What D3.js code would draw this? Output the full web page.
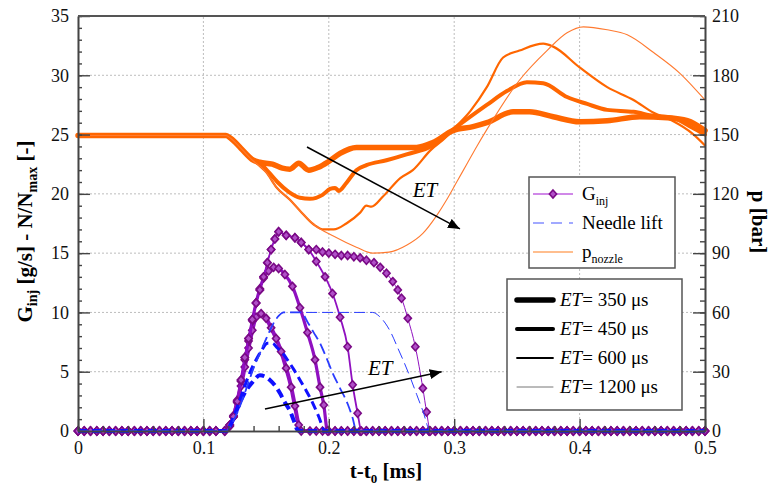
<!DOCTYPE html>
<html><head><meta charset="utf-8">
<script src="https://cdn.jsdelivr.net/npm/d3@7"></script>
<style>
body{margin:0;background:#fff;}
svg{display:block;}
text{font-family:"Liberation Serif","Times New Roman",Tinos,"DejaVu Serif","Noto Serif",Times,serif;}
</style></head>
<body><svg id="c" width="774" height="493"></svg>
<script>
// ---------------- DATA ----------------
const etLabels = ["350", "450", "600", "1200"];
const xTicks = [0, 0.1, 0.2, 0.3, 0.4, 0.5];
const leftTicks = [0, 5, 10, 15, 20, 25, 30, 35];
const rightTicks = [0, 30, 60, 90, 120, 150, 180, 210];

// sample times of the zero-valued G_inj points (ms)
const baseT = [0,0.005,0.01,0.015,0.02,0.025,0.03,0.035,0.04,0.045,0.05,0.055,0.06,0.065,0.07,0.075,0.08,0.085,0.09,0.095,
0.1,0.105,0.11,0.115,0.12,0.125,0.13,0.135,0.14,0.145,0.15,0.155,0.16,0.165,0.17,0.175,0.18,0.185,0.19,0.195,
0.2,0.205,0.21,0.215,0.22,0.225,0.23,0.235,0.24,0.245,0.25,0.255,0.26,0.265,0.27,0.275,0.28,0.285,0.29,0.295,
0.3,0.305,0.31,0.315,0.32,0.325,0.33,0.335,0.34,0.345,0.35,0.355,0.36,0.365,0.37,0.375,0.38,0.385,0.39,0.395,
0.4,0.405,0.41,0.415,0.42,0.425,0.43,0.435,0.44,0.445,0.45,0.455,0.46,0.465,0.47,0.475,0.48,0.485,0.49,0.495,0.5];

// injection rate pulses [t ms, g/s]
const gin350 = [[0.117,0],[0.121,0.4],[0.124,1.2],[0.127,2.4],[0.130,3.8],[0.133,5.4],[0.136,7.0],[0.139,8.5],[0.142,9.6],[0.146,9.9],
 [0.150,9.5],[0.154,8.7],[0.158,7.8],[0.162,6.7],[0.166,5.3],[0.170,3.7],[0.173,2.1],[0.176,0.5],[0.178,0]];
const gin450 = [[0.117,0],[0.121,0.5],[0.124,1.3],[0.127,2.6],[0.130,4.2],[0.133,6.0],[0.136,7.6],[0.139,9.3],[0.142,10.8],[0.145,12.0],
 [0.148,12.9],[0.152,13.5],[0.156,13.8],[0.160,13.7],[0.165,13.2],[0.171,12.2],[0.177,10.4],[0.183,8.3],[0.189,6.0],[0.193,3.7],[0.196,2.2],[0.199,0]];
const gin600 = [[0.117,0],[0.121,0.5],[0.124,1.2],[0.127,2.5],[0.130,4.3],[0.133,6.2],[0.136,7.8],[0.139,9.4],[0.142,10.8],[0.145,11.9],
 [0.148,13.0],[0.151,14.2],[0.154,15.3],[0.157,16.2],[0.160,16.8],[0.166,16.5],[0.173,16.3],[0.178,15.9],[0.184,15.3],[0.190,14.3],
 [0.197,13.0],[0.203,11.6],[0.209,9.6],[0.215,7.1],[0.219,3.9],[0.223,1.5],[0.226,0]];
const gin1200 = [[0.117,0],[0.121,0.5],[0.124,1.2],[0.127,2.5],[0.130,4.3],[0.133,6.2],[0.136,7.8],[0.139,9.4],[0.142,10.8],[0.145,11.9],
 [0.148,13.0],[0.151,14.2],[0.154,15.3],[0.157,16.2],[0.160,16.8],[0.166,16.5],[0.173,16.3],[0.178,15.9],[0.184,15.3],[0.190,15.3],
 [0.195,15.1],[0.200,15.0],[0.205,14.9],[0.210,14.8],[0.215,14.8],[0.220,14.7],[0.225,14.6],[0.230,14.4],[0.236,14.2],[0.241,13.8],
 [0.246,13.3],[0.251,12.6],[0.255,11.9],[0.258,11.2],[0.263,9.5],[0.269,7.1],[0.275,3.6],[0.278,1.6],[0.281,0]];

// needle lift (normalised, x10) [t ms, value]
const nl350 = [[0,0],[0.118,0],[0.122,0.6],[0.126,1.6],[0.130,2.6],[0.134,3.4],[0.139,4.1],[0.145,4.7],[0.149,4.6],[0.153,4.3],
 [0.158,3.7],[0.161,3.2],[0.165,2.4],[0.169,1.7],[0.172,0.9],[0.175,0.1],[0.177,0],[0.5,0]];
const nl450 = [[0,0],[0.118,0],[0.122,0.6],[0.127,2.0],[0.132,3.5],[0.137,4.9],[0.143,6.2],[0.147,6.9],[0.151,7.4],[0.155,7.4],
 [0.159,7.0],[0.163,6.6],[0.167,6.0],[0.172,5.2],[0.177,4.3],[0.182,3.4],[0.187,2.4],[0.192,1.2],[0.197,0],[0.5,0]];
const nl600 = [[0,0],[0.118,0],[0.122,0.5],[0.128,1.8],[0.134,3.5],[0.140,5.3],[0.146,6.8],[0.151,8.0],[0.156,9.1],[0.160,9.7],
 [0.164,10],[0.178,10],[0.183,9.2],[0.188,8.3],[0.193,7.4],[0.198,6.2],[0.203,4.9],[0.209,3.6],[0.215,2.3],[0.219,1.1],[0.222,0],[0.5,0]];
const nl1200 = [[0,0],[0.118,0],[0.122,0.5],[0.128,1.8],[0.134,3.5],[0.140,5.3],[0.146,6.8],[0.151,8.0],[0.156,9.1],[0.160,9.7],
 [0.164,10],[0.235,10],[0.240,9.7],[0.245,9.1],[0.250,8.2],[0.255,7.0],[0.260,5.8],[0.265,4.5],[0.270,3.1],[0.275,1.7],[0.281,0],[0.5,0]];

// nozzle pressure [t ms, bar]
const p350 = [[0,149.5],[0.118,149.5],[0.122,148],[0.130,143],[0.140,137],[0.145,136],[0.155,135],[0.163,133],[0.169,132.5],[0.176,135.5],
 [0.184,132],[0.192,133.5],[0.199,136],[0.209,140.5],[0.222,143.5],[0.243,143.5],[0.270,143.5],[0.283,146],[0.299,152],[0.315,154],
 [0.326,156],[0.347,161.5],[0.360,161.5],[0.379,159],[0.400,156.5],[0.422,157],[0.448,159],[0.470,158.5],[0.486,157],[0.5,152]];
const p450 = [[0,149.5],[0.118,149.5],[0.122,148],[0.130,143],[0.140,137],[0.145,135.5],[0.152,131],[0.159,126],[0.168,121],[0.177,118],
 [0.185,117.5],[0.195,119.5],[0.201,122.5],[0.205,123],[0.208,121.5],[0.214,125.5],[0.222,132],[0.230,134.5],[0.246,137],[0.262,140],
 [0.283,144.5],[0.299,152.5],[0.326,165],[0.342,172],[0.358,176.5],[0.371,176],[0.390,169],[0.406,165.5],[0.422,162.5],[0.443,161.5],
 [0.459,159.5],[0.474,158.5],[0.490,153.5],[0.5,150]];
const p600 = [[0,149.5],[0.118,149.5],[0.122,148],[0.130,143],[0.140,136.5],[0.145,134],[0.150,131],[0.158,123.5],[0.169,117],[0.177,111.5],
 [0.188,104.5],[0.196,102],[0.204,102],[0.214,105],[0.225,110.5],[0.230,114],[0.234,113.5],[0.243,118.5],[0.257,128],[0.267,132],
 [0.281,142],[0.294,149],[0.299,152.5],[0.313,162],[0.326,174],[0.339,189],[0.352,192.5],[0.371,196],[0.379,194.5],[0.400,184],
 [0.422,174],[0.443,167.5],[0.459,161],[0.474,157],[0.490,150.5],[0.5,144.5]];
const p1200 = [[0,149.5],[0.118,149.5],[0.122,148],[0.130,143],[0.140,136.5],[0.145,134],[0.150,131],[0.158,123.5],[0.169,117],[0.177,111.5],
 [0.188,104.5],[0.204,98.5],[0.222,93],[0.235,90],[0.248,90.5],[0.262,94],[0.275,100],[0.286,109],[0.294,117],[0.302,126],
 [0.310,135],[0.318,144],[0.326,152.5],[0.352,177.5],[0.374,192.5],[0.390,201.5],[0.403,204.5],[0.422,203],[0.438,200.5],[0.459,191.5],
 [0.480,181],[0.5,167.5]];

const ginSeries = [gin350, gin450, gin600, gin1200];
const nlSeries = [nl350, nl450, nl600, nl1200];
const pSeries = [p350, p450, p600, p1200];

// ---------------- DRAW ----------------
const FONT = '"Liberation Serif","Times New Roman",Tinos,"DejaVu Serif","Noto Serif",Times,serif';
const svg = d3.select("#c");
const X0 = 78, X1 = 705, Y0 = 431, Y1 = 16;
const x = d3.scaleLinear([0, 0.5], [X0, X1]);
const yL = d3.scaleLinear([0, 35], [Y0, Y1]);
const yR = d3.scaleLinear([0, 210], [Y0, Y1]);

const orange = "#FF6600", blue = "#1010FF", purple = "#9010C0", purpleDark = "#7A0A86";
const pWidths = [5.5, 4, 2.2, 1.1];
const nlWidths = [4, 3, 1.8, 1];
const nlDash = ["9,5", "9,5", "11,5", "11,5"];
const ginWidths = [4, 3.2, 1.8, 1];

// grid
const grid = svg.append("g").attr("stroke", "#bdbdbd").attr("stroke-width", 1).attr("stroke-dasharray", "2,2");
grid.selectAll("line.gx").data(xTicks.slice(1, -1)).join("line")
  .attr("x1", d => x(d)).attr("x2", d => x(d)).attr("y1", Y0).attr("y2", Y1);
grid.selectAll("line.gy").data(leftTicks.slice(1, -1)).join("line")
  .attr("x1", X0).attr("x2", X1).attr("y1", d => yL(d)).attr("y2", d => yL(d));

const plot = svg.append("g");
const lineP = d3.line().x(d => x(d[0])).y(d => yR(d[1])).curve(d3.curveMonotoneX);
const lineL = d3.line().x(d => x(d[0])).y(d => yL(d[1])).curve(d3.curveMonotoneX);

// pressure
pSeries.forEach((s, i) => {
  plot.append("path").attr("d", lineP(s)).attr("fill", "none")
    .attr("stroke", i === 3 ? "#FF7A30" : orange).attr("stroke-width", pWidths[i])
    .attr("stroke-linejoin", "round").attr("stroke-linecap", "round");
});

// G_inj: full series = zeros before pulse + pulse + zeros after
const diamond = "M0,-4L3.6,0L0,4L-3.6,0Z";
ginSeries.forEach((s, i) => {
  const t0 = s[0][0], t1 = s[s.length - 1][0];
  const full = baseT.filter(t => t < t0 - 0.002).map(t => [t, 0])
    .concat(s)
    .concat(baseT.filter(t => t > t1 + 0.002).map(t => [t, 0]));
  plot.append("path").attr("d", lineL(full)).attr("fill", "none")
    .attr("stroke", purple).attr("stroke-width", ginWidths[i]).attr("stroke-linejoin", "round");
  plot.append("g").selectAll("path").data(full).join("path")
    .attr("transform", d => `translate(${x(d[0])},${yL(d[1])})`)
    .attr("d", diamond).attr("fill", "#B050C8").attr("stroke", purpleDark).attr("stroke-width", 1.6);
});

// needle lift
nlSeries.forEach((s, i) => {
  plot.append("path").attr("d", lineL(s)).attr("fill", "none")
    .attr("stroke", i >= 2 ? "#2a3cff" : blue).attr("stroke-width", nlWidths[i])
    .attr("stroke-dasharray", nlDash[i]);
});

// ET arrows
svg.append("defs").append("marker").attr("id", "ah").attr("viewBox", "0 0 12 10")
  .attr("refX", 12).attr("refY", 5).attr("markerWidth", 12).attr("markerHeight", 10)
  .attr("markerUnits", "userSpaceOnUse").attr("orient", "auto")
  .append("path").attr("d", "M0,0L12,5L0,10Z").attr("fill", "#000");
const arrows = [
  {from: [0.1826, 23.95], to: [0.3046, 17.04], label: [0.2767, 20.3]},
  {from: [0.1491, 1.85], to: [0.2900, 5.0], label: [0.2410, 5.3]}
];
arrows.forEach(a => {
  svg.append("line").attr("x1", x(a.from[0])).attr("y1", yL(a.from[1]))
    .attr("x2", x(a.to[0])).attr("y2", yL(a.to[1]))
    .attr("stroke", "#000").attr("stroke-width", 1.5).attr("marker-end", "url(#ah)");
  svg.append("text").attr("x", x(a.label[0])).attr("y", yL(a.label[1]) + 7)
    .attr("text-anchor", "middle").attr("font-style", "italic").attr("font-size", 21).text("ET");
});

// axes
const axG = svg.append("g").attr("font-size", 18);
function styleAxis(g) {
  g.attr("font-family", FONT);
  g.select(".domain").attr("stroke", "#444").attr("stroke-width", 1.6);
  g.selectAll(".tick line").attr("stroke", "#444").attr("stroke-width", 1.4);
  g.selectAll("text").attr("font-size", 18).attr("fill", "#111");
}
axG.append("g").attr("transform", `translate(${X0},0)`)
  .call(d3.axisLeft(yL).tickValues(d3.range(0, 35.01, 1)).tickSize(-4).tickSizeOuter(0).tickFormat(""))
  .call(styleAxis);
axG.append("g").attr("transform", `translate(${X0},0)`)
  .call(d3.axisLeft(yL).tickValues(leftTicks).tickSize(-12).tickSizeOuter(0).tickPadding(9).tickFormat(d3.format("d")))
  .call(styleAxis);
axG.append("g").attr("transform", `translate(${X1},0)`)
  .call(d3.axisRight(yR).tickValues(d3.range(0, 210.01, 6)).tickSize(-5).tickSizeOuter(0).tickFormat(""))
  .call(styleAxis);
axG.append("g").attr("transform", `translate(${X1},0)`)
  .call(d3.axisRight(yR).tickValues(rightTicks).tickSize(-12).tickSizeOuter(0).tickPadding(7).tickFormat(d3.format("d")))
  .call(styleAxis);
axG.append("g").attr("transform", `translate(0,${Y0})`)
  .call(d3.axisBottom(x).tickValues(d3.range(0, 0.5001, 0.02)).tickSize(-5).tickSizeOuter(0).tickFormat(""))
  .call(styleAxis);
axG.append("g").attr("transform", `translate(0,${Y0})`)
  .call(d3.axisBottom(x).tickValues(xTicks).tickSize(-12).tickSizeOuter(0).tickPadding(10).tickFormat(d => d === 0 ? "0" : d3.format(".1f")(d)))
  .call(styleAxis);
svg.append("line").attr("x1", X0).attr("x2", X1).attr("y1", Y1).attr("y2", Y1).attr("stroke", "#555").attr("stroke-width", 1.8);

// axis titles
const lt = svg.append("text").attr("transform", `translate(32,${(Y0 + Y1) / 2 + 8}) rotate(-90)`)
  .attr("text-anchor", "middle").attr("font-weight", "bold").attr("font-size", 21);
lt.append("tspan").text("G");
lt.append("tspan").attr("font-size", 14).attr("dy", 5).text("inj");
lt.append("tspan").attr("dy", -5).text("  [g/s] - N/N");
lt.append("tspan").attr("font-size", 14).attr("dy", 5).text("max");
lt.append("tspan").attr("dy", -5).text(" [-]");

svg.append("text").attr("transform", `translate(752,222) rotate(90)`)
  .attr("text-anchor", "middle").attr("font-weight", "bold").attr("font-size", 21).text("p [bar]");

const xt = svg.append("text").attr("x", 386).attr("y", 478).attr("text-anchor", "middle")
  .attr("font-weight", "bold").attr("font-size", 21);
xt.append("tspan").text("t-t");
xt.append("tspan").attr("font-size", 13).attr("dy", 5).text("0");
xt.append("tspan").attr("dy", -5).text(" [ms]");

// legend 1
const lg1 = svg.append("g");
lg1.append("rect").attr("x", 529).attr("y", 177).attr("width", 146).attr("height", 91)
  .attr("fill", "#fff").attr("stroke", "#555").attr("stroke-width", 1.5);
const l1y = [194, 223, 252];
lg1.append("line").attr("x1", 533).attr("x2", 573).attr("y1", l1y[0]).attr("y2", l1y[0]).attr("stroke", "#C060E0").attr("stroke-width", 1.5);
lg1.append("path").attr("transform", `translate(553,${l1y[0]})`).attr("d", diamond).attr("fill", "#B050C8").attr("stroke", purpleDark).attr("stroke-width", 1.6);
lg1.append("line").attr("x1", 533).attr("x2", 573).attr("y1", l1y[1]).attr("y2", l1y[1]).attr("stroke", "#4455ff").attr("stroke-width", 1.2).attr("stroke-dasharray", "11,7");
lg1.append("line").attr("x1", 533).attr("x2", 573).attr("y1", l1y[2]).attr("y2", l1y[2]).attr("stroke", "#FFA868").attr("stroke-width", 1.5);
const t1 = lg1.append("text").attr("x", 582).attr("y", l1y[0] + 6).attr("font-size", 19);
t1.append("tspan").text("G"); t1.append("tspan").attr("font-size", 12).attr("dy", 5).text("inj");
lg1.append("text").attr("x", 582).attr("y", l1y[1] + 6).attr("font-size", 19).text("Needle lift");
const t3 = lg1.append("text").attr("x", 582).attr("y", l1y[2] + 6).attr("font-size", 19);
t3.append("tspan").text("p"); t3.append("tspan").attr("font-size", 12).attr("dy", 5).text("nozzle");

// legend 2
const lg2 = svg.append("g");
lg2.append("rect").attr("x", 507).attr("y", 279).attr("width", 175).attr("height", 131)
  .attr("fill", "#fff").attr("stroke", "#555").attr("stroke-width", 1.5);
const l2y = [300, 329, 358, 387];
const lgW = [5.5, 4, 1.8, 1];
etLabels.forEach((e, i) => {
  lg2.append("line").attr("x1", 517).attr("x2", 553).attr("y1", l2y[i]).attr("y2", l2y[i])
    .attr("stroke", i === 3 ? "#777" : "#000").attr("stroke-width", lgW[i]).attr("stroke-linecap", "round");
  const t = lg2.append("text").attr("x", 560).attr("y", l2y[i] + 6).attr("font-size", 19);
  t.append("tspan").attr("font-style", "italic").text("ET");
  t.append("tspan").text("= " + e + " μs");
});
</script></body></html>
